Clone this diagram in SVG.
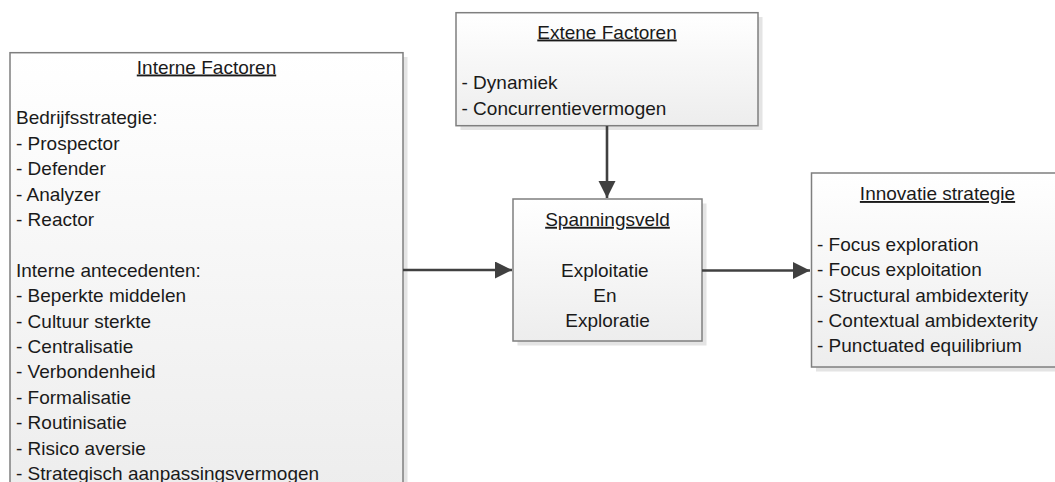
<svg xmlns="http://www.w3.org/2000/svg" width="1055" height="482" viewBox="0 0 1055 482">
  <style>
    .box { fill: url(#grad); stroke: #7f7f7f; stroke-width: 1.5; }
    .shadow { fill: #e4e4e4; }
    .t { font-family: "Liberation Sans", Arial, sans-serif; font-size: 19px; fill: #1a1a1a; }
    .c { text-anchor: middle; }
    .u { text-decoration: underline; }
    .conn { stroke: #404040; stroke-width: 2.6; fill: none; marker-end: url(#arrow); }
  </style>
  <defs>
    <linearGradient id="grad" x1="0" y1="0" x2="0" y2="1">
      <stop offset="0" stop-color="#ffffff"/>
      <stop offset="1" stop-color="#ededed"/>
    </linearGradient>
    <marker id="arrow" markerUnits="userSpaceOnUse" markerWidth="18" markerHeight="18" refX="17" refY="8.5" orient="auto">
      <path d="M0,0 L17,8.5 L0,17 Z" fill="#404040"/>
    </marker>
  </defs>
  <rect width="1055" height="482" fill="#ffffff"/>

  <g id="interne-factoren">
    <rect class="shadow" x="14.5" y="57" width="393" height="440"/>
    <rect class="box" x="10" y="52.7" width="393" height="440"/>
    <text class="t c u" x="206.5" y="73.5">Interne Factoren</text>
    <text class="t" x="16">
      <tspan x="16" y="124.3">Bedrijfsstrategie:</tspan>
      <tspan x="16" y="149.7">- Prospector</tspan>
      <tspan x="16" y="175.1">- Defender</tspan>
      <tspan x="16" y="200.5">- Analyzer</tspan>
      <tspan x="16" y="225.9">- Reactor</tspan>
      <tspan x="16" y="276.7">Interne antecedenten:</tspan>
      <tspan x="16" y="302.1">- Beperkte middelen</tspan>
      <tspan x="16" y="327.5">- Cultuur sterkte</tspan>
      <tspan x="16" y="352.9">- Centralisatie</tspan>
      <tspan x="16" y="378.3">- Verbondenheid</tspan>
      <tspan x="16" y="403.7">- Formalisatie</tspan>
      <tspan x="16" y="429.1">- Routinisatie</tspan>
      <tspan x="16" y="454.5">- Risico aversie</tspan>
      <tspan x="16" y="479.9">- Strategisch aanpassingsvermogen</tspan>
    </text>
  </g>

  <g id="externe-factoren">
    <rect class="shadow" x="460.5" y="17" width="302" height="113"/>
    <rect class="box" x="456" y="12.7" width="302" height="113"/>
    <text class="t c u" x="607" y="38.5">Extene Factoren</text>
    <text class="t">
      <tspan x="461.5" y="89.3">- Dynamiek</tspan>
      <tspan x="461.5" y="114.7">- Concurrentievermogen</tspan>
    </text>
  </g>

  <g id="spanningsveld">
    <rect class="shadow" x="517.5" y="203.5" width="189" height="142"/>
    <rect class="box" x="513" y="199" width="189" height="142"/>
    <text class="t c u" x="607.5" y="225.8">Spanningsveld</text>
    <text class="t c">
      <tspan x="607.5" y="276.6">Exploitatie</tspan>
      <tspan x="607.5" y="302">En</tspan>
      <tspan x="607.5" y="327.4">Exploratie</tspan>
    </text>
  </g>

  <g id="innovatie-strategie">
    <rect class="shadow" x="816" y="177.5" width="252" height="194"/>
    <rect class="box" x="811.5" y="173" width="252" height="194"/>
    <text class="t c u" x="937.5" y="200">Innovatie strategie</text>
    <text class="t">
      <tspan x="817" y="250.8">- Focus exploration</tspan>
      <tspan x="817" y="276.2">- Focus exploitation</tspan>
      <tspan x="817" y="301.6">- Structural ambidexterity</tspan>
      <tspan x="817" y="327">- Contextual ambidexterity</tspan>
      <tspan x="817" y="352.4">- Punctuated equilibrium</tspan>
    </text>
  </g>

  <g id="connectors">
    <line class="conn" x1="403" y1="270" x2="512" y2="270"/>
    <line class="conn" x1="702" y1="270.5" x2="810" y2="270.5"/>
    <line class="conn" x1="607" y1="126" x2="607" y2="198"/>
  </g>
</svg>
